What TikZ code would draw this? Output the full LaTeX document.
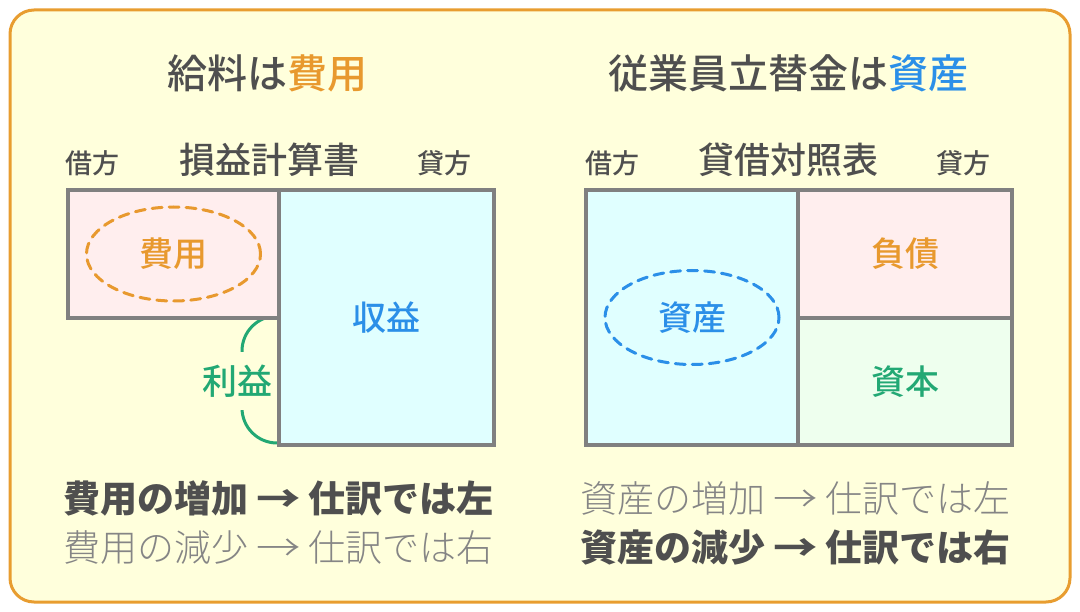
\documentclass[tikz,border=0pt]{standalone}
\usepackage{fontspec}
\setmainfont{Noto Sans CJK JP}
\IfFontExistsTF{Noto Sans CJK JP Light}{\newfontfamily\jplight{Noto Sans CJK JP Light}}{\newfontfamily\jplight{Noto Sans CJK JP}}
\IfFontExistsTF{Noto Sans CJK JP Medium}{\newfontfamily\jpmed{Noto Sans CJK JP Medium}}{\newfontfamily\jpmed{Noto Sans CJK JP}}
\definecolor{bg}{HTML}{FFFFDC}
\definecolor{frameC}{HTML}{E89D30}
\definecolor{orangeT}{HTML}{E8992E}
\definecolor{blueT}{HTML}{2B8FE8}
\definecolor{greenT}{HTML}{22A874}
\definecolor{boxgray}{HTML}{808080}
\definecolor{pinkF}{HTML}{FFEEEE}
\definecolor{cyanF}{HTML}{E0FFFF}
\definecolor{greenF}{HTML}{EEFFEE}
\definecolor{darkT}{HTML}{4F4F4F}
\definecolor{lightT}{HTML}{858585}
\newcommand{\rarr}{\makebox[60pt]{\scalebox{1.2}[1]{→}}}
\tikzset{
  acct/.style={draw=boxgray, line width=4pt, inner sep=0pt, anchor=north west, font=\fontsize{34}{40}\selectfont\jpmed},
  ring/.style={line width=3pt, dash pattern=on 10pt off 7pt, line cap=round},
  titletext/.style={inner sep=0pt, text=darkT, font=\fontsize{40}{46}\selectfont\jpmed},
  headtext/.style={inner sep=0pt, text=darkT, font=\fontsize{36}{42}\selectfont\jpmed},
  sidetext/.style={inner sep=0pt, text=darkT, font=\fontsize{27}{32}\selectfont\jpmed},
  rulebold/.style={inner sep=0pt, anchor=west, text=darkT, font=\fontsize{37}{42}\selectfont\bfseries},
  rulelight/.style={inner sep=0pt, anchor=west, text=lightT, font=\fontsize{37}{42}\selectfont\jplight},
}
\begin{document}
\begin{tikzpicture}[x=1pt,y=-1pt]
\useasboundingbox (0,0) rectangle (1080,612);
\draw[draw=frameC, line width=3pt, fill=bg, rounded corners=24pt] (10,10) rectangle (1070,602);

% titles
\node[titletext] (t1) at (267,73) {給料は\textcolor{orangeT}{費用}};
\node[titletext] (t2) at (788,73) {従業員立替金は\textcolor{blueT}{資産}};
\node[headtext] (pl) at (269,160) {損益計算書};
\node[headtext] (bs) at (788,160) {貸借対照表};
\node[sidetext] (dl) at (92.5,163.5) {借方};
\node[sidetext] (cl) at (444,163.5) {貸方};
\node[sidetext] (dr) at (612.5,163.5) {借方};
\node[sidetext] (cr) at (963.5,163.5) {貸方};

% income statement
\coordinate (pbtop) at (277,316);
\coordinate (pbbot) at (277,443);
\draw[draw=greenT, line width=3pt, rounded corners=35pt] (pbtop) -| ([xshift=-35pt]pbbot) -- (pbbot);
\node[inner sep=0pt, minimum height=58pt, fill=bg, text=greenT, font=\fontsize{35}{42}\selectfont\jpmed] (profit) at (237,381) {利益};
\node[acct, fill=pinkF, text=orangeT, minimum width=211pt, minimum height=128pt] (cost) at (66,188) {費用};
\node[acct, fill=cyanF, text=blueT, minimum width=215pt, minimum height=255pt] (rev) at (277,188) {収益};
\draw[ring, draw=orangeT] (cost.center) ellipse [x radius=87pt, y radius=47pt];

% balance sheet
\node[acct, fill=cyanF, text=blueT, minimum width=212pt, minimum height=255pt] (asset) at (584,188) {資産};
\node[acct, fill=pinkF, text=orangeT, minimum width=214pt, minimum height=128pt] (liab) at (796,188) {負債};
\node[acct, fill=greenF, text=greenT, minimum width=214pt, minimum height=127pt] (cap) at (796,316) {資本};
\draw[ring, draw=blueT] (asset.center) ellipse [x radius=87pt, y radius=47pt];

% rules
\node[rulebold] (l1) at (63,498) {費用の増加\rarr 仕訳では左};
\node[rulelight] (l2) at (63,548) {費用の減少\rarr 仕訳では右};
\node[rulelight] (r1) at (580,498) {資産の増加\rarr 仕訳では左};
\node[rulebold] (r2) at (580,548) {資産の減少\rarr 仕訳では右};
\end{tikzpicture}
\end{document}
